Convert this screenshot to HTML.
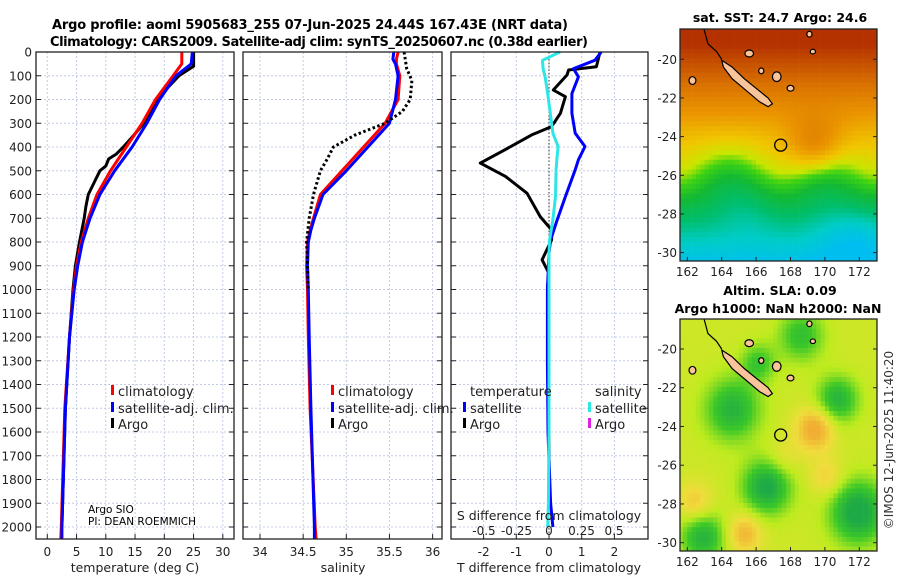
<!DOCTYPE html>
<html><head><meta charset="utf-8"><style>
html,body{margin:0;padding:0;background:#fff}
svg{display:block;font-family:"DejaVu Sans","Liberation Sans",sans-serif}
</style></head><body>
<svg id="fig" width="900" height="580" viewBox="0 0 900 580">
<defs id="defs"></defs>
<text x="310" y="29" font-size="13" font-weight="bold" text-anchor="middle" textLength="516">Argo profile: aoml 5905683_255 07-Jun-2025 24.44S 167.43E (NRT data)</text>
<text x="319" y="46" font-size="13" font-weight="bold" text-anchor="middle" textLength="538">Climatology: CARS2009. Satellite-adj clim: synTS_20250607.nc (0.38d earlier)</text>
<g id="plots"></g>
<text x="780" y="22" font-size="12.5" font-weight="bold" text-anchor="middle">sat. SST: 24.7 Argo: 24.6</text>
<text x="780" y="295" font-size="12.5" font-weight="bold" text-anchor="middle">Altim. SLA: 0.09</text>
<text x="778" y="313" font-size="12.5" font-weight="bold" text-anchor="middle">Argo h1000: NaN h2000: NaN</text>
<text transform="translate(893,440) rotate(-90)" font-size="12" text-anchor="middle" fill="#333">©IMOS 12-Jun-2025 11:40:20</text>
</svg>
<script>
// ---- profile data ----
const depthT = [0,50,100,200,300,400,500,600,700,800,900,1000,1200,1500,2000,2050];
const tempClim = [23.0,23.0,21.5,18.5,16.2,13.5,10.8,8.5,7.0,5.8,5.0,4.5,3.8,3.0,2.4,2.3];
const tempSat  = [24.8,24.6,22.0,19.2,17.0,14.5,11.5,9.0,7.3,6.0,5.2,4.6,3.8,3.1,2.5,2.5];
const depthArgoT = [0,60,100,150,200,250,300,350,400,430,450,480,500,550,600,650,700,800,900,1000,1200,1500,2000];
const tempArgo = [25.0,25.0,22.5,20.6,19.0,17.8,16.5,14.8,13.0,11.8,10.5,10.0,9.0,8.0,7.0,6.6,6.3,5.5,4.8,4.4,3.8,3.1,2.5];
const depthS = [0,30,50,100,200,300,400,500,600,700,750,800,900,1000,1200,1500,2000,2050];
const salClim = [35.60,35.58,35.58,35.62,35.60,35.45,35.20,34.95,34.70,34.62,34.58,34.55,34.54,34.55,34.56,34.58,34.64,34.65];
const salSat  = [35.55,35.54,35.57,35.60,35.57,35.50,35.25,35.00,34.73,34.63,34.59,34.56,34.55,34.56,34.57,34.59,34.63,34.63];
const depthArgoS = [0,70,120,200,250,300,350,400,450,500,600,700,800,900,1000];
const salArgo = [35.67,35.70,35.76,35.74,35.65,35.45,35.10,34.85,34.78,34.70,34.62,34.57,34.54,34.55,34.56];
const depthDT = [0,62,76,97,160,188,258,314,349,412,468,524,595,693,749,791,875,932,988,1030,1200,1500,1900];
const dTArgo = [1.56,1.45,0.6,0.55,0.13,0.5,0.35,0.08,-0.53,-1.35,-2.1,-1.33,-0.67,-0.27,0.08,0.08,-0.21,0.0,-0.05,0.0,0.0,0.0,0.0];
const depthDS = [0,35,70,105,175,258,342,398,454,496,609,707,791,847,1000,1300,1600,1900,2000];
const dTSat = [1.6,1.4,0.75,0.9,0.7,0.7,0.8,1.1,0.9,0.8,0.5,0.25,0.05,0.0,-0.05,-0.05,-0.03,0.05,0.12];
const dSSat = [0.085,-0.05,-0.045,-0.03,-0.01,0.01,0.03,0.07,0.06,0.055,0.05,0.03,0.005,0.0,0.0,0.0,0.0,-0.005,-0.01];
const depthTicks = [0,100,200,300,400,500,600,700,800,900,1000,1100,1200,1300,1400,1500,1600,1700,1800,1900,2000];
const tTicks = [0,5,10,15,20,25,30];
const sTicks = [34,34.5,35,35.5,36];
const sTickLabels = ["34","34.5","35","35.5","36"];
const dTTicks = [-2,-1,0,1,2];
const dSTicks = [-0.5,-0.25,0,0.25,0.5];
const dSTickLabels = ["-0.5","-0.25","0","0.25","0.5"];

const NS="http://www.w3.org/2000/svg";
const g=document.getElementById('plots');
const defs=document.getElementById('defs');
function el(tag,attrs,parent){const e=document.createElementNS(NS,tag);for(const k in attrs)e.setAttribute(k,attrs[k]);(parent||g).appendChild(e);return e;}
const TOP=52,BOT=539;
const yD=d=>TOP+d*0.2375;
const xT=v=>47.3+v*5.85;
const xS=v=>260+(v-34)*86.3;
const xDT=v=>549+v*32.7;
const xDS=v=>549+v*130;
const panels=[[36,234],[243,442],[451,648]];

function grid(x0,x1,xs){
  depthTicks.forEach(d=>{const l=el('line',{x1:x0,x2:x1,y1:yD(d),y2:yD(d),stroke:'#c4cbe6','stroke-width':1,'stroke-dasharray':'2,2'});
  
  [[x0,x0+5],[x1-5,x1]].forEach(p=>{const t=el('line',{x1:p[0],x2:p[1],y1:yD(d),y2:yD(d),stroke:'#222','stroke-width':1});});});
  xs.forEach(x=>{const l=el('line',{x1:x,x2:x,y1:TOP,y2:BOT,stroke:'#c4cbe6','stroke-width':1,'stroke-dasharray':'2,2'});
  });
}
grid(36,234,tTicks.map(xT));
grid(243,442,sTicks.map(xS));
grid(451,648,dTTicks.map(xDT));

function line(xs,ds,fx,color,w,name,dash){
  const pts=xs.map((v,i)=>fx(v).toFixed(1)+','+yD(ds[i]).toFixed(1)).join(' ');
  const a={points:pts,fill:'none',stroke:color,'stroke-width':w,'stroke-linejoin':'round'};
  if(dash)a['stroke-dasharray']=dash;
  const p=el('polyline',a);
  
  
}
line(tempArgo,depthArgoT,xT,'#000',3,'temp-argo-line');
line(tempClim,depthT,xT,'#f00',3,'temp-climatology-line');
line(tempSat,depthT,xT,'#00f',3,'temp-satellite-line');
line(salClim,depthS,xS,'#f00',3,'sal-climatology-line');
line(salSat,depthS,xS,'#00f',3,'sal-satellite-line');
line(salArgo,depthArgoS,xS,'#000',3,'sal-argo-line','2.5,2.5');
const zl=el('line',{x1:xDT(0),x2:xDT(0),y1:TOP,y2:BOT,stroke:'#333','stroke-width':1,'stroke-dasharray':'1.5,2'});

line(dTArgo,depthDT,xDT,'#000',3,'tdiff-argo-line');
line(dTSat,depthDS,xDT,'#00f',3,'tdiff-satellite-line');
line(dSSat,depthDS,xDS,'#2ee6e6',3,'sdiff-satellite-line');

panels.forEach((p,i)=>{const r=el('rect',{x:p[0],y:TOP,width:p[1]-p[0],height:BOT-TOP,fill:'none',stroke:'#222','stroke-width':1.3});
});

function txt(x,y,s,size,anchor,name,fill){const t=el('text',{x:x,y:y,'font-size':size,'text-anchor':anchor||'start',fill:fill||'#222'});t.textContent=s;return t;}
depthTicks.forEach(d=>txt(32,yD(d)+4.5,String(d),12,'end','y-tick-label'));
function xticks(vals,labels,fx){vals.forEach((v,i)=>{txt(fx(v),556,labels[i],12,'middle','x-tick-label');
 const t=el('line',{x1:fx(v),x2:fx(v),y1:BOT-5,y2:BOT,stroke:'#222'});});}
xticks(tTicks,tTicks.map(String),xT);
xticks(sTicks,sTickLabels,xS);
xticks(dTTicks,dTTicks.map(String),xDT);
txt(135,572,'temperature (deg C)',12.5,'middle','x-axis-title-temperature');
txt(343,572,'salinity',12.5,'middle','x-axis-title-salinity');
txt(549,572,'T difference from climatology',12.5,'middle','x-axis-title-tdiff');
txt(549,520,'S difference from climatology',12.5,'middle','s-axis-title');
dSTicks.forEach((v,i)=>txt(xDS(v),535,dSTickLabels[i],12,'middle','s-tick-label'));
function mark(x,y,c){const r=el('rect',{x:x,y:y-11,width:3,height:10,fill:c});}
[[111,118],[331,338]].forEach(p=>{
 mark(p[0],396,'#f00');txt(p[1],396,'climatology',13,'start','legend-climatology');
 mark(p[0],413,'#00f');txt(p[1],413,'satellite-adj. clim.',13,'start','legend-satellite');
 mark(p[0],429,'#000');txt(p[1],429,'Argo',13,'start','legend-argo');
});
txt(470,396,'temperature',13,'start','legend-temperature-header');
txt(595,396,'salinity',13,'start','legend-salinity-header');
mark(463,413,'#00f');txt(470,413,'satellite',13,'start','legend-t-satellite');
mark(463,429,'#000');txt(470,429,'Argo',13,'start','legend-t-argo');
mark(588,413,'#2ee6e6');txt(595,413,'satellite',13,'start','legend-s-satellite');
mark(588,429,'#e020e0');txt(595,429,'Argo',13,'start','legend-s-argo');
txt(88,513,'Argo SIO',10.5,'start','operator-label','#000');
txt(88,525,'PI: DEAN ROEMMICH',10.5,'start','pi-label','#000');

// ---- maps ----
const lonTicks=[162,164,166,168,170,172];
const latTicks=[-20,-22,-24,-26,-28,-30];
const xL=lon=>687.3+(lon-162)*17.2;
function lerpC(stops,v){if(v<=stops[0][0])return stops[0][1];for(let i=1;i<stops.length;i++){if(v<=stops[i][0]){const a=stops[i-1],b=stops[i],t=(v-a[0])/(b[0]-a[0]);return a[1].map((c,k)=>Math.round(c+(b[1][k]-c)*t));}}return stops[stops.length-1][1];}
const sstStops=[[22.0,[0,190,240]],[22.5,[0,205,200]],[23.0,[0,190,110]],[23.6,[20,185,50]],[24.0,[60,210,20]],[24.3,[200,230,0]],[24.7,[240,200,0]],[25.3,[235,150,0]],[26.0,[215,110,0]],[26.8,[180,50,0]]];
const slaStops=[[-1,[30,170,70]],[-0.5,[60,200,40]],[0,[190,235,30]],[0.5,[240,220,60]],[1,[240,175,50]]];
function sstVal(lat,lon){let v=24+0.42*(lat+25.8);
 v+=0.9*Math.exp(-((lon-169.3)**2/2.5+(lat+24.3)**2/2));
 v+=0.25*Math.sin(lon*1.1)*Math.exp(-((lat+26)**2)/3);
 v-=0.5*Math.exp(-((lon-171.5)**2/5+(lat+29)**2/3));
 v-=0.3*Math.exp(-((lon-165.5)**2/3+(lat+27.5)**2/3));
 return v;}
const slaBlobs=[[164.5,-23,1.6,-1],[166.5,-27,1.4,-1.2],[162.8,-29.6,1.3,-1],[171.8,-28.3,1.6,-1.3],[170.6,-22.5,1.2,-1],[168.5,-19.2,1.3,-0.8],[166,-20.6,1,-0.7],[169.3,-24,1.1,1],[165.2,-29.4,1,0.8],[162.3,-27.8,1,0.6],[170,-26.5,1,0.5],[167.5,-25.5,1,0.3]];
function slaVal(lat,lon){let v=0.15;slaBlobs.forEach(b=>{v+=b[3]*Math.exp(-(((lon-b[0])**2+(lat-b[1])**2)/(b[2]*b[2])));});return v;}
let mapCount=0;
function drawMap(y0,y1,yLat,fn,stops,name){
 const id='mapclip'+(mapCount++);
 const cp=el('clipPath',{id:id},defs);
 el('rect',{x:680,y:y0,width:197,height:y1-y0},cp);
 const mg=el('g',{'clip-path':'url(#'+id+')'});
 for(let lon=161.5;lon<173.1;lon+=0.25){for(let lat=-18.2;lat>-30.7;lat-=0.25){
  const c=lerpC(stops,fn(lat,lon));
  el('rect',{x:xL(lon).toFixed(1),y:yLat(lat).toFixed(1),width:4.6,height:5.2,fill:'rgb('+c.join(',')+')'},mg);}}
 const nc=[[164.0,-20.05],[164.6,-20.4],[165.3,-21.0],[166.0,-21.5],[166.7,-22.0],[166.95,-22.3],[166.7,-22.45],[166.2,-22.2],[165.4,-21.6],[164.6,-21.0],[164.1,-20.4]];
 const isl=el('polygon',{points:nc.map(p=>xL(p[0]).toFixed(1)+','+yLat(p[1]).toFixed(1)).join(' '),fill:'#f9c49a',stroke:'#000','stroke-width':1.2},mg);
 
 [[167.2,-20.9,0.25,0.25],[168.0,-21.5,0.2,0.15],[162.3,-21.1,0.2,0.2],[165.6,-19.7,0.25,0.18],[169.1,-18.7,0.15,0.15],[169.3,-19.6,0.15,0.12],[166.3,-20.6,0.15,0.15]].forEach(e=>{
  const o=el('ellipse',{cx:xL(e[0]),cy:yLat(e[1]),rx:e[2]*17.2,ry:e[3]*19.3,fill:'#f9c49a',stroke:'#000','stroke-width':1.2},mg);
  });
 const cl=el('polyline',{points:[[162.9,-18.2],[163.2,-19.2],[163.7,-19.6],[164.0,-20.0]].map(p=>xL(p[0])+','+yLat(p[1])).join(' '),fill:'none',stroke:'#000','stroke-width':1.2},mg);
 
 const ci=el('circle',{cx:xL(167.43),cy:yLat(-24.44),r:6,fill:'none',stroke:'#000','stroke-width':1.3},mg);
 
 const fr=el('rect',{x:680,y:y0,width:197,height:y1-y0,fill:'none',stroke:'#222','stroke-width':1.3});
 
 lonTicks.forEach(l=>{txt(xL(l),y1+15,String(l),12,'middle','lon-tick-label');
  const t=el('line',{x1:xL(l),x2:xL(l),y1:y1-4,y2:y1,stroke:'#222'});});
 latTicks.forEach(l=>{txt(677,yLat(l)+4.5,String(l),12,'end','lat-tick-label');
  [[680,684],[873,877]].forEach(p=>{const t=el('line',{x1:p[0],x2:p[1],y1:yLat(l),y2:yLat(l),stroke:'#222'});});});
}
drawMap(29,261,lat=>59.3+(-20-lat)*19.33,sstVal,sstStops,'sst-map');
drawMap(319,551,lat=>349+(-20-lat)*19.37,slaVal,slaStops,'sla-map');
</script>
</body></html>
